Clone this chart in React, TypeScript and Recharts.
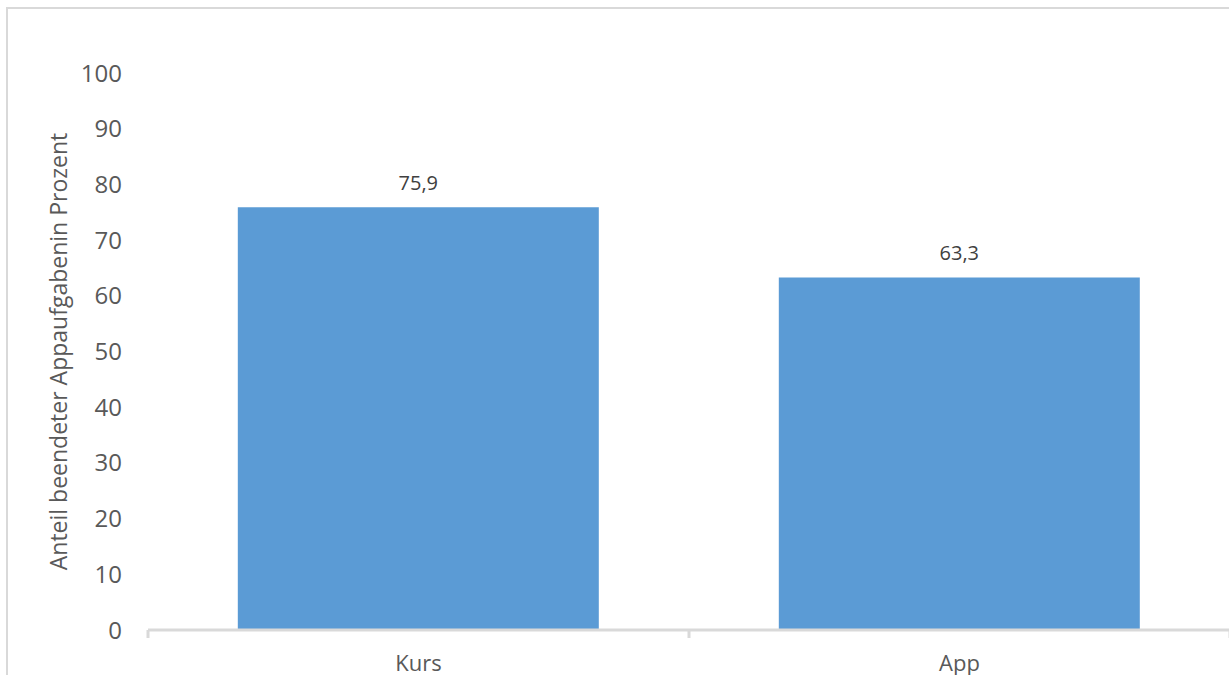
import { Bar, BarChart, LabelList, XAxis, YAxis } from "recharts";

const categories = ["Kurs", "App"];
const completedShare = [75.9, 63.3];
const yTicks = [0, 10, 20, 30, 40, 50, 60, 70, 80, 90, 100];
const yTitle = "Anteil beendeter Appaufgabenin Prozent";

const data = categories.map((name, i) => ({ name, value: completedShare[i] }));

const FONT = "'Open Sans', 'Noto Sans', sans-serif";
const TEXT = "#595959";
const GRID = "#d9d9d9";
const X_TICK_MARGIN = 25;

/** Category label centred in its band, with Excel-style tick marks on the band edges. */
function XTick(props: any) {
  const { x, y, payload } = props;
  const half = payload?.offset ?? 0;
  const axisY = y - X_TICK_MARGIN;
  const isLast = payload?.value === categories[categories.length - 1];
  return (
    <g>
      <line x1={x - half} x2={x - half} y1={axisY} y2={axisY + 8} stroke={GRID} strokeWidth={3} />
      {isLast && (
        <line x1={x + half} x2={x + half} y1={axisY} y2={axisY + 8} stroke={GRID} strokeWidth={3} />
      )}
      <text x={x} y={y} dy="0.72em" textAnchor="middle" fill={TEXT} fontSize={22} fontFamily={FONT}>
        {payload?.value}
      </text>
    </g>
  );
}

function YTitle(props: any) {
  const vb = props.viewBox ?? { x: 0, y: 0, width: 0, height: 0 };
  const cx = vb.x + 58;
  const cy = vb.y + vb.height / 2;
  return (
    <text
      x={cx}
      y={cy}
      transform={`rotate(-90, ${cx}, ${cy})`}
      textAnchor="middle"
      dominantBaseline="central"
      fill={TEXT}
      fontSize={23}
      fontFamily={FONT}
    >
      {yTitle}
    </text>
  );
}

export default function App() {
  return (
    <div
      style={{
        position: "fixed",
        left: 0,
        top: 0,
        width: 1229,
        height: 675,
        overflow: "hidden",
        background: "#fff",
      }}
    >
      <div
        style={{
          position: "absolute",
          left: 6,
          top: 7,
          width: 1400,
          height: 800,
          borderLeft: `2px solid ${GRID}`,
          borderTop: `2px solid ${GRID}`,
        }}
      />
      <div style={{ position: "absolute", left: 0, top: 0 }}>
        <BarChart
          width={1230}
          height={690}
          data={data}
          margin={{ top: 73, right: 0, bottom: 0, left: 0 }}
          barCategoryGap="16.6%"
        >
          <XAxis
            dataKey="name"
            height={60}
            axisLine={{ stroke: GRID, strokeWidth: 3 }}
            tickLine={false}
            tickSize={0}
            tickMargin={X_TICK_MARGIN}
            tick={<XTick />}
            interval={0}
          />
          <YAxis
            width={148}
            domain={[0, 100]}
            ticks={yTicks}
            interval={0}
            axisLine={false}
            tickLine={false}
            tickSize={0}
            tickMargin={26}
            tick={{ fill: TEXT, fontSize: 24, fontFamily: FONT }}
            label={<YTitle />}
          />
          <Bar dataKey="value" fill="#5b9bd5" isAnimationActive={false}>
            <LabelList
              dataKey="value"
              position="top"
              offset={17}
              formatter={(v: any) => String(v).replace(".", ",")}
              fill="#404040"
              fontSize={20}
              fontFamily={FONT}
            />
          </Bar>
        </BarChart>
      </div>
    </div>
  );
}
